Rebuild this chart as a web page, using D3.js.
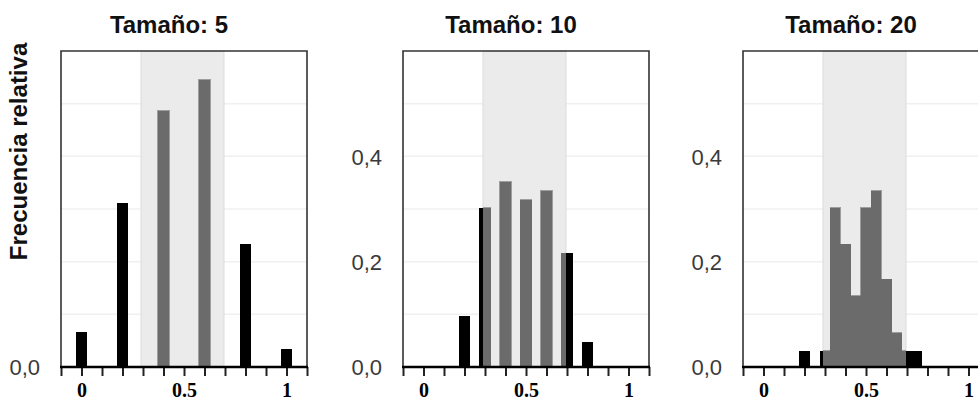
<!doctype html>
<html lang="es">
<head>
    <meta charset="utf-8">
    <title>Frecuencia relativa por tamaño de muestra</title>
    <script src="https://d3js.org/d3.v7.min.js"></script>
    <style type="text/css">
        body { margin: 0; background: #fff; }
        svg { display: block; }
    </style>
</head>

<body>
</body>

<script type="text/javascript">

    // datos
    var titles = ["Tamaño: 5", "Tamaño: 10", "Tamaño: 20"];

    var props5 = [0, 0.2, 0.4, 0.6, 0.8, 1.0];
    var freq5  = [0.066, 0.311, 0.487, 0.545, 0.233, 0.034];

    var props10 = [0.2, 0.3, 0.4, 0.5, 0.6, 0.7, 0.8];
    var freq10  = [0.097, 0.302, 0.352, 0.318, 0.335, 0.216, 0.048];

    var props20 = [0.2, 0.3, 0.35, 0.4, 0.45, 0.5, 0.55, 0.6, 0.65, 0.7, 0.75];
    var freq20  = [0.031, 0.031, 0.302, 0.233, 0.135, 0.302, 0.335, 0.167, 0.065, 0.031, 0.031];

    var barWidths = [0.055, 0.055, 0.05];

    var band = [0.29, 0.695];          // zona sombreada
    var xTicks = [-0.1, 0, 0.1, 0.2, 0.3, 0.4, 0.5, 0.6, 0.7, 0.8, 0.9, 1.0, 1.1];
    var xLabels = [0, 0.5, 1];
    var yGrid = [0.1, 0.2, 0.3, 0.4, 0.5];
    var yLabelsFirst = [0];
    var yLabels = [0, 0.2, 0.4];

    var panels = [
        {props: props5,  freq: freq5},
        {props: props10, freq: freq10},
        {props: props20, freq: freq20}
    ];

    var width = 978, height = 403;
    var plotW = 246, plotTop = 51, plotBottom = 367;
    var lefts = [61, 403, 743];

    var x = d3.scaleLinear().domain([-0.1, 1.1]).range([0, plotW]);
    var y = d3.scaleLinear().domain([0, 0.6]).range([plotBottom - plotTop, 0]);
    var plotH = plotBottom - plotTop;

    var svg = d3.select("body")
                .append("svg")
                .attr("width", width)
                .attr("height", height)
                .style("font-family", "'Liberation Sans', Arial, sans-serif");

    svg.append("text")
       .attr("transform", "translate(27," + ((43 + 260) / 2) + ") rotate(-90)")
       .attr("text-anchor", "middle")
       .style("font-size", "24px")
       .style("font-weight", "bold")
       .style("fill", "#111")
       .text("Frecuencia relativa");

    panels.forEach(function(p, i) {
        var g = svg.append("g")
                   .attr("transform", "translate(" + lefts[i] + "," + plotTop + ")");

        var rows = p.props.map(function(v, k) { return {prop: v, freq: p.freq[k]}; });
        var bw = barWidths[i];

        // título
        g.append("text")
         .attr("x", plotW / 2 - 15)
         .attr("y", 33 - plotTop)
         .attr("text-anchor", "middle")
         .style("font-size", "24px")
         .style("font-weight", "bold")
         .style("fill", "#111")
         .text(titles[i]);

        // rejilla
        g.selectAll(".grid").data(yGrid).enter()
         .append("line")
         .attr("x1", 0).attr("x2", plotW)
         .attr("y1", d => y(d)).attr("y2", d => y(d))
         .style("stroke", "#f0f0f0")
         .style("stroke-width", 1.5);

        // zona sombreada
        g.append("rect")
         .attr("x", x(band[0]))
         .attr("y", 0)
         .attr("width", x(band[1]) - x(band[0]))
         .attr("height", plotH)
         .style("fill", "#ebebeb")
         .style("stroke", "#dcdcdc")
         .style("stroke-width", 1);

        var clipId = "clip" + i;
        g.append("clipPath").attr("id", clipId)
         .append("rect")
         .attr("x", x(band[0]))
         .attr("y", -5)
         .attr("width", x(band[1]) - x(band[0]))
         .attr("height", plotH + 10);

        // barras negras
        g.selectAll(".bar").data(rows).enter()
         .append("rect")
         .attr("class", "bar")
         .attr("x", d => x(d.prop - bw / 2))
         .attr("y", d => y(d.freq))
         .attr("width", x(bw) - x(0))
         .attr("height", d => plotH - y(d.freq))
         .attr("shape-rendering", "crispEdges")
         .style("fill", "#000");

        // parte dentro de la zona en gris
        g.append("g").attr("clip-path", "url(#" + clipId + ")")
         .selectAll(".gbar").data(rows).enter()
         .append("rect")
         .attr("x", d => x(d.prop - bw / 2))
         .attr("y", d => y(d.freq))
         .attr("width", x(bw) - x(0))
         .attr("height", d => plotH - y(d.freq))
         .attr("shape-rendering", "crispEdges")
         .style("fill", "#6b6b6b")
         .style("stroke", "#6b6b6b")
         .style("stroke-width", 0.6);

        // marco
        g.append("path")
         .attr("d", "M0," + plotH + "V0H" + plotW + "V" + plotH)
         .style("fill", "none")
         .style("stroke", "#333")
         .style("stroke-width", 1.6);

        // eje x
        var xAxis = d3.axisBottom(x)
                      .tickValues(xTicks)
                      .tickSize(9)
                      .tickFormat(d => xLabels.some(v => Math.abs(v - d) < 1e-9) ? String(+d.toFixed(1)) : "");

        var ax = g.append("g")
                  .attr("transform", "translate(0," + plotH + ")")
                  .call(xAxis);
        ax.select(".domain").remove();
        ax.selectAll(".tick line").style("stroke", "#222").style("stroke-width", 2);
        ax.append("line")
          .attr("x1", -1).attr("x2", plotW + 1)
          .attr("y1", 0).attr("y2", 0)
          .style("stroke", "#000")
          .style("stroke-width", 2.5);
        ax.selectAll(".tick text")
          .attr("y", 30)
          .attr("dy", 0)
          .style("font-family", "'Liberation Serif', 'Times New Roman', serif")
          .style("font-weight", "bold")
          .style("font-size", "20px")
          .style("fill", "#000");

        // eje y
        var yAxis = d3.axisLeft(y)
                      .tickValues(i === 0 ? yLabelsFirst : yLabels)
                      .tickSize(0)
                      .tickFormat(d => d.toFixed(1).replace(".", ","));

        var ay = g.append("g").call(yAxis);
        ay.select(".domain").remove();
        ay.selectAll(".tick text")
          .attr("x", -21)
          .attr("dy", "0.35em")
          .style("font-family", "'Liberation Sans', Arial, sans-serif")
          .style("font-size", "22px")
          .style("fill", "#3a3a3a");
    });

</script>

</html>
